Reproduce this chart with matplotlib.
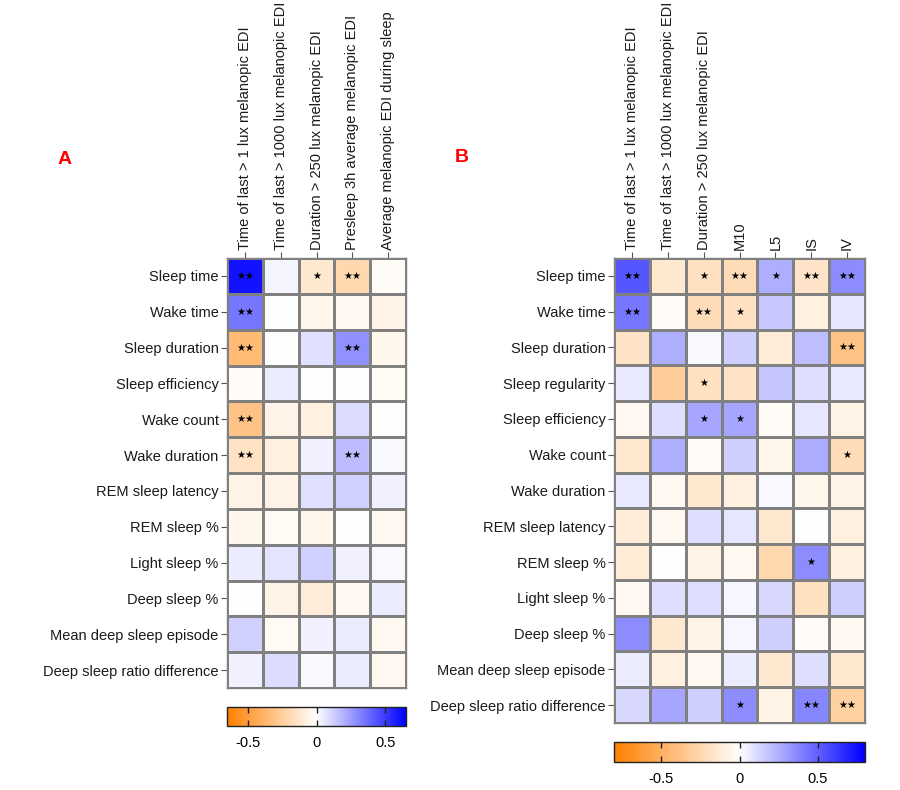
import numpy as np
import matplotlib
matplotlib.use("Agg")
import matplotlib.pyplot as plt
from matplotlib.colors import LinearSegmentedColormap

plt.rcParams["font.family"] = ["Liberation Sans", "DejaVu Sans"]

#
# Panel A data
#
rows_a = ["Sleep time", "Wake time", "Sleep duration", "Sleep efficiency",
          "Wake count", "Wake duration", "REM sleep latency", "REM sleep %",
          "Light sleep %", "Deep sleep %", "Mean deep sleep episode",
          "Deep sleep ratio difference"]
cols_a = ["Time of last > 1 lux melanopic EDI",
          "Time of last > 1000 lux melanopic EDI",
          "Duration > 250 lux melanopic EDI",
          "Presleep 3h average melanopic EDI",
          "Average melanopic EDI during sleep"]
vals_a = [
    [0.60, 0.03, -0.12, -0.20, -0.02],
    [0.35, 0.00, -0.05, -0.04, -0.06],
    [-0.35, 0.00, 0.08, 0.28, -0.05],
    [-0.02, 0.05, 0.00, 0.00, -0.03],
    [-0.30, -0.06, -0.08, 0.09, -0.01],
    [-0.15, -0.08, 0.04, 0.17, 0.02],
    [-0.06, -0.06, 0.08, 0.12, 0.04],
    [-0.05, -0.03, -0.05, 0.00, -0.04],
    [0.05, 0.07, 0.12, 0.04, 0.02],
    [0.00, -0.06, -0.10, -0.04, 0.05],
    [0.12, -0.03, 0.04, 0.05, -0.04],
    [0.04, 0.09, 0.02, 0.05, -0.04],
]
stars_a = [
    ["**", "", "*", "**", ""],
    ["**", "", "", "", ""],
    ["**", "", "", "**", ""],
    ["", "", "", "", ""],
    ["**", "", "", "", ""],
    ["**", "", "", "**", ""],
] + [["", "", "", "", ""]] * 6

#
# Panel B data
#
rows_b = ["Sleep time", "Wake time", "Sleep duration", "Sleep regularity",
          "Sleep efficiency", "Wake count", "Wake duration", "REM sleep latency",
          "REM sleep %", "Light sleep %", "Deep sleep %",
          "Mean deep sleep episode", "Deep sleep ratio difference"]
cols_b = ["Time of last > 1 lux melanopic EDI",
          "Time of last > 1000 lux melanopic EDI",
          "Duration > 250 lux melanopic EDI",
          "M10", "L5", "IS", "IV"]
vals_b = [
    [0.53, -0.15, -0.20, -0.22, 0.25, -0.17, 0.36],
    [0.43, -0.02, -0.22, -0.20, 0.17, -0.10, 0.08],
    [-0.18, 0.25, 0.02, 0.15, -0.12, 0.20, -0.38],
    [0.07, -0.32, -0.20, -0.18, 0.18, 0.10, 0.07],
    [-0.05, 0.10, 0.28, 0.28, -0.03, 0.08, -0.08],
    [-0.15, 0.25, -0.02, 0.15, -0.06, 0.26, -0.22],
    [0.07, -0.04, -0.15, -0.10, 0.02, -0.06, -0.07],
    [-0.12, -0.05, 0.10, 0.08, -0.15, 0.00, -0.10],
    [-0.13, 0.00, -0.08, -0.04, -0.25, 0.36, -0.10],
    [-0.05, 0.10, 0.10, 0.03, 0.12, -0.20, 0.15],
    [0.36, -0.15, -0.07, 0.03, 0.15, -0.02, -0.04],
    [0.06, -0.10, -0.04, 0.06, -0.15, 0.10, -0.15],
    [0.12, 0.28, 0.15, 0.36, -0.08, 0.38, -0.30],
]
stars_b = [
    ["**", "", "*", "**", "*", "**", "**"],
    ["**", "", "**", "*", "", "", ""],
    ["", "", "", "", "", "", "**"],
    ["", "", "*", "", "", "", ""],
    ["", "", "*", "*", "", "", ""],
    ["", "", "", "", "", "", "*"],
    ["", "", "", "", "", "", ""],
    ["", "", "", "", "", "", ""],
    ["", "", "", "", "", "*", ""],
    ["", "", "", "", "", "", ""],
    ["", "", "", "", "", "", ""],
    ["", "", "", "", "", "", ""],
    ["", "", "", "*", "", "**", "**"],
]

cmap = LinearSegmentedColormap.from_list(
    "ow_b", [(1.0, 0.5, 0.0), (1.0, 1.0, 1.0), (0.0, 0.0, 1.0)])

W, H = 900, 790
fig = plt.figure(figsize=(W / 100, H / 100), dpi=100)


def px_axes(x0, y0, x1, y1):
    # pixel box (top-left origin) -> figure axes
    return fig.add_axes([x0 / W, 1 - y1 / H, (x1 - x0) / W, (y1 - y0) / H])


def heatmap(box, cbox, rows, cols, vals, stars, vlim):
    ax = px_axes(*box)
    data = np.array(vals)
    mesh = ax.pcolormesh(data, cmap=cmap, vmin=-vlim, vmax=vlim,
                         edgecolors="#808080", linewidth=1.0)
    ax.set_xlim(0, len(cols))
    ax.set_ylim(len(rows), 0)
    ax.set_xticks(np.arange(len(cols)) + 0.5)
    ax.set_xticklabels(cols, rotation=90, fontsize=10.5, color="#1a1a1a")
    ax.set_yticks(np.arange(len(rows)) + 0.5)
    ax.set_yticklabels(rows, fontsize=10.5, color="#1a1a1a")
    ax.xaxis.tick_top()
    ax.tick_params(length=4, width=0.8, color="#555555", pad=2)
    for s in ax.spines.values():
        s.set_color("#808080")
        s.set_linewidth(1.0)
    for i, row in enumerate(stars):
        for j, st in enumerate(row):
            if st:
                ax.text(j + 0.5, i + 0.5, "\u2605" * len(st), ha="center",
                        va="center", fontsize=7.2, color="black",
                        family="DejaVu Sans")
    cax = px_axes(*cbox)
    cb = fig.colorbar(mesh, cax=cax, orientation="horizontal",
                      ticks=[-0.5, 0, 0.5])
    cb.ax.set_xticklabels(["-0.5", "0", "0.5"])
    cb.ax.tick_params(direction="in", length=4, width=1, labelsize=10.5,
                      color="#222222", bottom=True, top=True, pad=7)
    cb.outline.set_linewidth(1.0)
    cb.outline.set_edgecolor("#222222")
    return ax


heatmap((227, 258, 406, 688), (227, 707, 406, 726),
        rows_a, cols_a, vals_a, stars_a, 0.65)
heatmap((614, 258, 865, 723), (614, 742, 865, 762),
        rows_b, cols_b, vals_b, stars_b, 0.8)

fig.text(65 / W, 1 - 160 / H, "A", color="red", fontsize=14,
         fontweight="bold", ha="center", va="center")
fig.text(462 / W, 1 - 158 / H, "B", color="red", fontsize=14,
         fontweight="bold", ha="center", va="center")

fig.savefig("out.png", dpi=100)
